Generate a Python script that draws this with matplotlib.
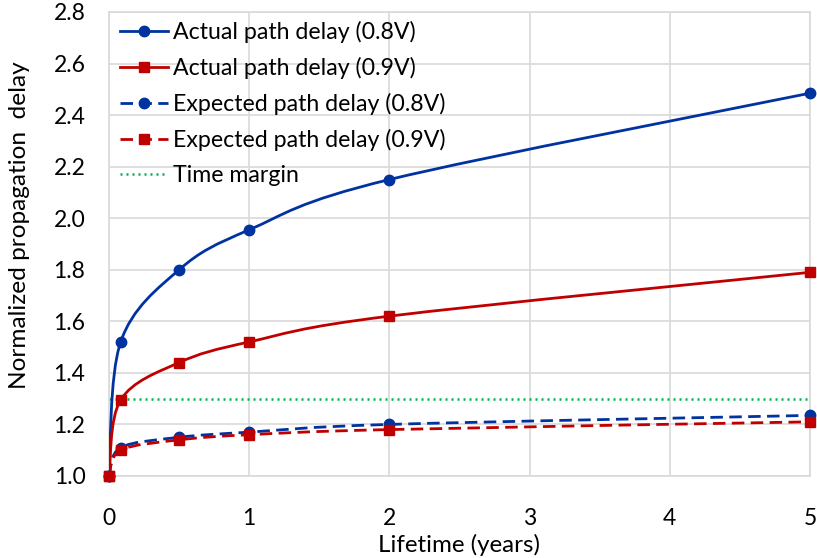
import numpy as np
import matplotlib
matplotlib.use("Agg")
import matplotlib.pyplot as plt
from matplotlib.path import Path
from matplotlib.patches import PathPatch
from matplotlib.lines import Line2D

plt.rcParams["font.family"] = ["Lato", "DejaVu Sans"]

# lifetime in years: 0, 1 month, 6 months, 1, 2, 5 years
lifetime = [0, 1 / 12, 0.5, 1, 2, 5]
actual_08 = [1.00, 1.52, 1.80, 1.955, 2.15, 2.485]
actual_09 = [1.00, 1.295, 1.44, 1.52, 1.62, 1.79]
expected_08 = [1.00, 1.11, 1.15, 1.17, 1.20, 1.235]
expected_09 = [1.00, 1.10, 1.14, 1.16, 1.18, 1.21]
time_margin = 1.3

BLUE = "#0033a0"
RED = "#c00000"
GREEN = "#00b050"


def smooth_path(x, y):
    # Excel-style smoothed line: cubic Bezier segments through every point
    p = np.column_stack([x, y]).astype(float)
    n = len(p)
    verts = [p[0]]
    codes = [Path.MOVETO]
    for i in range(n - 1):
        prev = p[i - 1] if i > 0 else p[i]
        nxt = p[i + 2] if i + 2 < n else p[i + 1]
        c1 = p[i] + (p[i + 1] - prev) / 6
        c2 = p[i + 1] - (nxt - p[i]) / 6
        verts += [c1, c2, p[i + 1]]
        codes += [Path.CURVE4] * 3
    return Path(verts, codes)


fig = plt.figure(figsize=(8.17, 5.58), dpi=100)
ax = fig.add_axes([0.1334, 0.147, 0.858, 0.8315])

dash = (0, (4.5, 2.3))
series = [
    (actual_08, BLUE, "o", 7.5, "-", "Actual path delay (0.8V)"),
    (actual_09, RED, "s", 7.5, "-", "Actual path delay (0.9V)"),
    (expected_08, BLUE, "o", 7.5, dash, "Expected path delay (0.8V)"),
    (expected_09, RED, "s", 7.5, dash, "Expected path delay (0.9V)"),
]

handles = []
for ys, col, mk, ms, ls, lab in series:
    ax.add_patch(PathPatch(smooth_path(lifetime, ys), fill=False,
                           edgecolor=col, lw=2, linestyle=ls, zorder=3))
    ax.plot(lifetime, ys, linestyle="none", marker=mk, ms=ms, color=col,
            clip_on=False, zorder=4)
    handles.append(Line2D([], [], color=col, lw=2, linestyle=ls, marker=mk,
                          ms=ms, label=lab))

dots = (0, (0.8, 1.6))
ax.plot([lifetime[0], lifetime[-1]], [time_margin, time_margin], color=GREEN,
        lw=1.8, linestyle=dots, zorder=2)
handles.append(Line2D([], [], color=GREEN, lw=1.8, linestyle=dots,
                      label="Time margin"))

ax.set_xlim(0, 5)
ax.set_ylim(1.0, 2.8)
ax.set_xticks(range(0, 6))
ax.set_yticks(np.arange(1.0, 2.81, 0.2))
ax.yaxis.set_major_formatter(matplotlib.ticker.FormatStrFormatter("%.1f"))
ax.grid(True, color="#d9d9d9", lw=1.2)
ax.set_axisbelow(True)
for s in ax.spines.values():
    s.set_color("#d9d9d9")
    s.set_linewidth(1.2)
ax.tick_params(length=0, labelsize=16.5, colors="black")
ax.tick_params(axis="y", pad=17)
ax.tick_params(axis="x", pad=23)

ax.set_xlabel("Lifetime (years)", fontsize=17.4, va="center")
ax.xaxis.set_label_coords(0.5, -0.149)
ax.set_ylabel("Normalized propagation  delay", fontsize=17.6, va="center")
ax.yaxis.set_label_coords(-0.127, 0.541)

leg = ax.legend(handles=handles, loc="upper left", frameon=False,
                fontsize=16.7, handlelength=2.07, handletextpad=0.22,
                labelspacing=0.6, borderaxespad=0.0,
                bbox_to_anchor=(0.0024, 1.0015))

fig.savefig("out.png", dpi=100)
